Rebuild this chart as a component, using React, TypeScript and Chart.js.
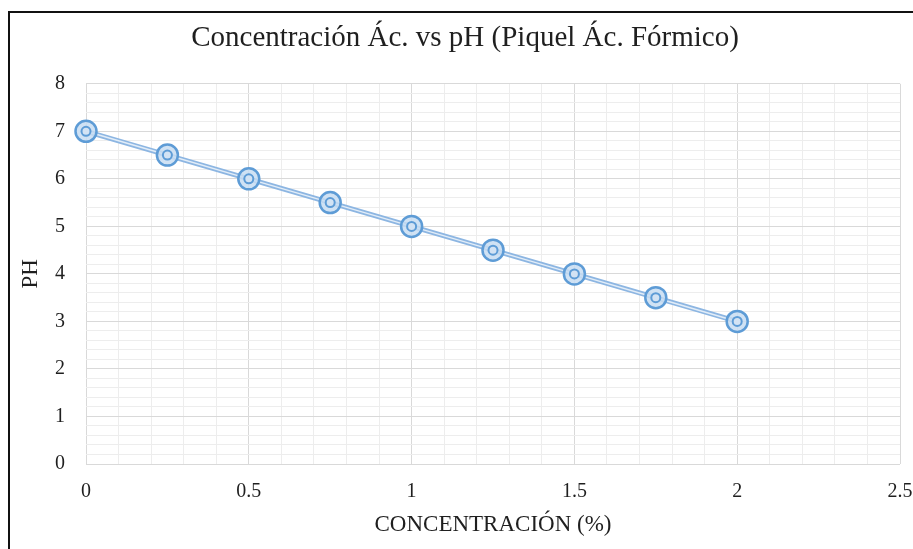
import React, { useEffect, useRef } from "react";
import { Chart, registerables } from "chart.js";

Chart.register(...registerables);

const concentracion = [0, 0.25, 0.5, 0.75, 1, 1.25, 1.5, 1.75, 2];
const ph = [7, 6.5, 6, 5.5, 5, 4.5, 4, 3.5, 3];
const xMajorLabels = ["0", "0.5", "1", "1.5", "2", "2.5"];
const yMajorLabels = ["0", "1", "2", "3", "4", "5", "6", "7", "8"];

const TITLE = "Concentración Ác. vs pH (Piquel Ác. Fórmico)";
const X_TITLE = "CONCENTRACIÓN (%)";
const Y_TITLE = "PH";

const SERIF = "'Liberation Serif', 'DejaVu Serif', serif";
const TEXT = "#1f1f1f";
const MAJOR = "#D9D9D9";
const MINOR = "#EDEDED";

function isMultiple(v: number, step: number) {
  const r = v / step;
  return Math.abs(r - Math.round(r)) < 1e-6;
}

export default function App() {
  const ref = useRef<HTMLCanvasElement | null>(null);

  useEffect(() => {
    if (!ref.current) return;
    const pts = concentracion.map((x, i) => ({ x, y: ph[i] }));
    const chart = new Chart(ref.current, {
      type: "scatter",
      data: {
        datasets: [
          {
            data: pts,
            showLine: true,
            borderColor: "#8DB6E2",
            borderWidth: 5,
            pointRadius: 0,
            order: 3,
            clip: false as any,
          },
          {
            data: pts,
            showLine: true,
            borderColor: "#E2EDF8",
            borderWidth: 1.5,
            pointRadius: 0,
            order: 2,
            clip: false as any,
          },
          {
            data: pts,
            showLine: false,
            pointRadius: 10.5,
            pointBorderWidth: 2.5,
            pointBorderColor: "#5E9CD6",
            pointBackgroundColor: "rgba(200,221,242,0.85)",
            order: 1,
            clip: false as any,
          },
          {
            data: pts,
            showLine: false,
            pointRadius: 4.5,
            pointBorderWidth: 2,
            pointBorderColor: "#5E9CD6",
            pointBackgroundColor: "#D3E3F4",
            order: 0,
            clip: false as any,
          },
        ],
      },
      options: {
        animation: false,
        responsive: false,
        maintainAspectRatio: false,
        events: [],
        layout: { padding: { left: 30, right: 30, top: 0, bottom: 0 } },
        plugins: {
          legend: { display: false },
          tooltip: { enabled: false },
          title: {
            display: true,
            text: TITLE,
            color: TEXT,
            font: { family: SERIF, size: 29, weight: "normal" as any, lineHeight: 1.2 },
            padding: { top: 21, bottom: 28 },
          },
        },
        scales: {
          x: {
            type: "linear",
            min: 0,
            max: 2.5,
            afterFit: (s: any) => {
              s.height = 85;
            },
            ticks: {
              stepSize: 0.1,
              autoSkip: false,
              maxRotation: 0,
              padding: 16,
              color: TEXT,
              font: { family: SERIF, size: 20 },
              callback: (v: any) => {
                const n = Number(v);
                if (!isMultiple(n, 0.5)) return "";
                const idx = Math.round(n / 0.5);
                return xMajorLabels[idx] ?? "";
              },
            },
            grid: {
              drawTicks: false,
              lineWidth: 1,
              color: (ctx: any) =>
                ctx.tick && isMultiple(ctx.tick.value, 0.5) ? MAJOR : MINOR,
            },
            border: { display: false },
            title: {
              display: true,
              text: X_TITLE,
              color: TEXT,
              font: { family: SERIF, size: 23, lineHeight: 1.2 },
              padding: { top: 0, bottom: 10 },
            },
          },
          y: {
            type: "linear",
            min: 0,
            max: 8,
            afterFit: (s: any) => {
              s.width = 56;
            },
            ticks: {
              stepSize: 0.2,
              autoSkip: false,
              padding: 21,
              color: TEXT,
              font: { family: SERIF, size: 20 },
              callback: (v: any) => {
                const n = Number(v);
                if (!isMultiple(n, 1)) return "";
                return yMajorLabels[Math.round(n)] ?? "";
              },
            },
            grid: {
              drawTicks: false,
              lineWidth: 1,
              color: (ctx: any) =>
                ctx.tick && isMultiple(ctx.tick.value, 1) ? MAJOR : MINOR,
            },
            border: { display: false },
            title: {
              display: true,
              text: Y_TITLE,
              color: TEXT,
              font: { family: SERIF, size: 23, lineHeight: 1.2 },
              padding: { top: -12.8, bottom: 0 },
            },
          },
        },
      },
    });
    return () => chart.destroy();
  }, []);

  return (
    <div
      style={{
        position: "fixed",
        left: 0,
        top: 0,
        width: 913,
        height: 549,
        overflow: "hidden",
        background: "#fff",
      }}
    >
      <canvas
        ref={ref}
        width={930}
        height={549}
        style={{ position: "absolute", left: 0, top: 0, width: 930, height: 549 }}
      />
      <div
        style={{
          position: "absolute",
          left: 8,
          top: 11,
          width: 1200,
          height: 1200,
          borderLeft: "2px solid #111",
          borderTop: "2px solid #111",
          pointerEvents: "none",
        }}
      />
    </div>
  );
}
